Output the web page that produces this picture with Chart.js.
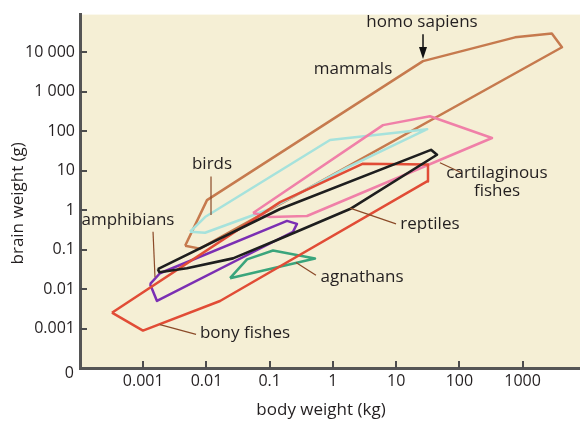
<!DOCTYPE html>
<html>
<head>
<meta charset="utf-8">
<script src="https://cdn.jsdelivr.net/npm/chart.js@4.4.1/dist/chart.umd.min.js"></script>
<style>
  html, body { margin: 0; padding: 0; background: #ffffff; }
  #wrap { position: relative; width: 580px; height: 423px; }
</style>
</head>
<body>
<div id="wrap"><canvas id="brainChart"></canvas></div>
<script>
// Tick labels
const xTickValues = [0.001, 0.01, 0.1, 1, 10, 100, 1000];
const xTickLabels = ['0.001', '0.01', '0.1', '1', '10', '100', '1000'];
const yTickValues = [0.0001, 0.001, 0.01, 0.1, 1, 10, 100, 1000, 10000];
const yTickLabels = ['0', '0.001', '0.01', '0.1', '1', '10', '100', '1 000', '10 000'];

// Outline of each group: body weight (kg) and brain weight (g) of each corner
const mammalsBody = [0.0046, 0.0102, 26.6, 760, 2900, 4200, 0.0079];
const mammalsBrain = [0.126, 1.8, 6000, 24000, 30000, 13500, 0.106];

const birdsBody = [0.0055, 0.0095, 0.9, 31, 1.67, 0.101, 0.0095];
const birdsBrain = [0.284, 0.67, 60, 113, 12, 1.07, 0.268];

const cartilaginousBody = [0.0545, 6.2, 34.3, 328, 0.389, 0.101];
const cartilaginousBrain = [0.847, 143, 240, 67.5, 0.713, 0.673];

const bonyBody = [0.00032, 0.00099, 0.0164, 30.8, 31.9, 2.99, 0.146];
const bonyBrain = [0.00252, 0.00089, 0.005, 5.35, 14.3, 15.1, 1.6];

const amphibiansBody = [0.00128, 0.00184, 0.188, 0.27, 0.234, 0.00165];
const amphibiansBrain = [0.0134, 0.0252, 0.535, 0.45, 0.284, 0.005];

const agnathansBody = [0.0236, 0.0438, 0.113, 0.521];
const agnathansBrain = [0.0189, 0.0565, 0.095, 0.0598];

const reptilesBody = [0.0017, 0.146, 35.6, 44.3, 1.86, 0.146, 0.0263, 0.0049, 0.0018];
const reptilesBrain = [0.032, 1.07, 33.8, 25.4, 1.07, 0.189, 0.06, 0.0336, 0.0267];

// closed outline from two arrays
function outline(body, brain) {
  const pts = body.map((b, i) => ({ x: b, y: brain[i] }));
  pts.push(pts[0]);
  return pts;
}

function group(data, color, width) {
  return {
    data: data,
    showLine: true,
    borderColor: color,
    borderWidth: width || 2.5,
    pointRadius: 0,
    tension: 0,
    fill: false,
    borderJoinStyle: 'round'
  };
}

const FONT = '"Open Sans", "Noto Sans", sans-serif';
const INK = '#231f20';
const LEADER = '#8b4a28';

// labels in decades (log10 kg, log10 g)
const labels = [
  { text: 'homo sapiens', lx: 1.409, ly: 4.757 },
  { text: 'mammals', lx: 0.318, ly: 3.581 },
  { text: 'birds', lx: -1.912, ly: 1.154 },
  { text: 'amphibians', lx: -3.241, ly: -0.247 },
  { text: 'bony fishes', lx: -1.390, ly: -3.124 },
  { text: 'agnathans', lx: 0.460, ly: -1.698 },
  { text: 'reptiles', lx: 1.535, ly: -0.347 },
  { text: 'cartilaginous', lx: 2.595, ly: 0.929 },
  { text: 'fishes', lx: 2.595, ly: 0.478 }
];
const leaders = [
  [-1.928, 0.854, -1.928, -0.122],
  [-2.845, -0.547, -2.814, -1.698],
  [-2.735, -2.899, -2.165, -3.149],
  [-0.584, -1.323, -0.268, -1.648],
  [0.270, 0.053, 0.998, -0.347],
  [1.693, 1.204, 2.026, 0.954]
];
const humanArrow = [1.425, 4.456, 3.831];

const decor = {
  id: 'decor',
  beforeDraw(chart) {
    const { ctx, chartArea: a } = chart;
    ctx.save();
    ctx.fillStyle = '#f5efd5';
    ctx.fillRect(a.left, a.top, a.right - a.left, a.bottom - a.top);
    ctx.restore();
  },
  afterDatasetsDraw(chart) {
    const { ctx, chartArea: a } = chart;
    const xs = chart.scales.x, ys = chart.scales.y;
    const px = v => xs.getPixelForValue(Math.pow(10, v));
    const py = v => ys.getPixelForValue(Math.pow(10, v));
    ctx.save();

    // inner tick marks
    ctx.strokeStyle = '#4d4d4d';
    ctx.lineWidth = 2;
    xTickValues.forEach(v => {
      const x = Math.round(xs.getPixelForValue(v));
      ctx.beginPath(); ctx.moveTo(x, a.bottom); ctx.lineTo(x, a.bottom - 7); ctx.stroke();
    });
    yTickValues.slice(1).forEach(v => {
      const y = Math.round(ys.getPixelForValue(v));
      ctx.beginPath(); ctx.moveTo(a.left, y); ctx.lineTo(a.left + 7, y); ctx.stroke();
    });

    // leader lines
    ctx.strokeStyle = LEADER;
    ctx.lineWidth = 1.2;
    leaders.forEach(l => {
      ctx.beginPath(); ctx.moveTo(px(l[0]), py(l[1])); ctx.lineTo(px(l[2]), py(l[3])); ctx.stroke();
    });

    // arrow to homo sapiens
    const ax = px(humanArrow[0]), ay1 = py(humanArrow[1]), ay2 = py(humanArrow[2]);
    ctx.strokeStyle = '#111';
    ctx.lineWidth = 1.5;
    ctx.beginPath(); ctx.moveTo(ax, ay1); ctx.lineTo(ax, ay2 - 8); ctx.stroke();
    ctx.fillStyle = '#111';
    ctx.beginPath();
    ctx.moveTo(ax - 4, ay2 - 12); ctx.lineTo(ax + 4, ay2 - 12); ctx.lineTo(ax, ay2); ctx.closePath();
    ctx.fill();

    // group names
    ctx.fillStyle = INK;
    ctx.font = '17px ' + FONT;
    ctx.textAlign = 'center';
    ctx.textBaseline = 'middle';
    labels.forEach(t => ctx.fillText(t.text, px(t.lx), py(t.ly)));

    // the "0" sits a little below the corner
    ctx.font = '16px ' + FONT;
    ctx.textAlign = 'right';
    ctx.fillText(yTickLabels[0], a.left - 6, a.bottom + 5);

    // axis titles
    ctx.font = '17px ' + FONT;
    ctx.textAlign = 'center';
    ctx.fillText('body weight (kg)', (a.left + a.right) / 2 - 9, 410);
    ctx.translate(18, (a.top + a.bottom) / 2 + 12);
    ctx.rotate(-Math.PI / 2);
    ctx.fillText('brain weight (g)', 0, 0);
    ctx.restore();
  }
};

const axisBorder = { display: true, color: '#555555', width: 3 };

new Chart(document.getElementById('brainChart'), {
  type: 'scatter',
  data: {
    datasets: [
      group(outline(reptilesBody, reptilesBrain), '#1e1e1e', 2.6),
      group(outline(bonyBody, bonyBrain), '#e14c36'),
      group(outline(amphibiansBody, amphibiansBrain), '#7b2fb3'),
      group(outline(agnathansBody, agnathansBrain), '#3aa57c'),
      group(outline(cartilaginousBody, cartilaginousBrain), '#f080a8'),
      group(outline(birdsBody, birdsBrain), '#a6e2dc'),
      group(outline(mammalsBody, mammalsBrain), '#c67a4e')
    ]
  },
  options: {
    responsive: true,
    maintainAspectRatio: false,
    animation: false,
    devicePixelRatio: 1,
    layout: { padding: { top: 10, right: 0, bottom: 0, left: 0 } },
    plugins: { legend: { display: false }, tooltip: { enabled: false } },
    scales: {
      x: {
        type: 'logarithmic',
        min: 0.0001,
        max: 8090,
        grid: { display: false, drawTicks: false },
        border: axisBorder,
        afterBuildTicks: s => { s.ticks = xTickValues.map(v => ({ value: v })); },
        afterFit: s => { s.height = 55; },
        ticks: {
          autoSkip: false,
          maxRotation: 0,
          padding: 4,
          color: INK,
          font: { family: FONT, size: 16 },
          callback: (v, i) => xTickLabels[i]
        }
      },
      y: {
        type: 'logarithmic',
        min: 0.0001,
        max: 90600,
        grid: { display: false, drawTicks: false },
        border: axisBorder,
        afterBuildTicks: s => { s.ticks = yTickValues.map(v => ({ value: v })); },
        afterFit: s => { s.width = 80; },
        ticks: {
          autoSkip: false,
          padding: 5,
          color: INK,
          font: { family: FONT, size: 16 },
          // "0" is drawn by the plugin, slightly lower
          callback: (v, i) => (i === 0 ? '' : yTickLabels[i])
        }
      }
    }
  },
  plugins: [decor]
});
</script>
</body>
</html>
